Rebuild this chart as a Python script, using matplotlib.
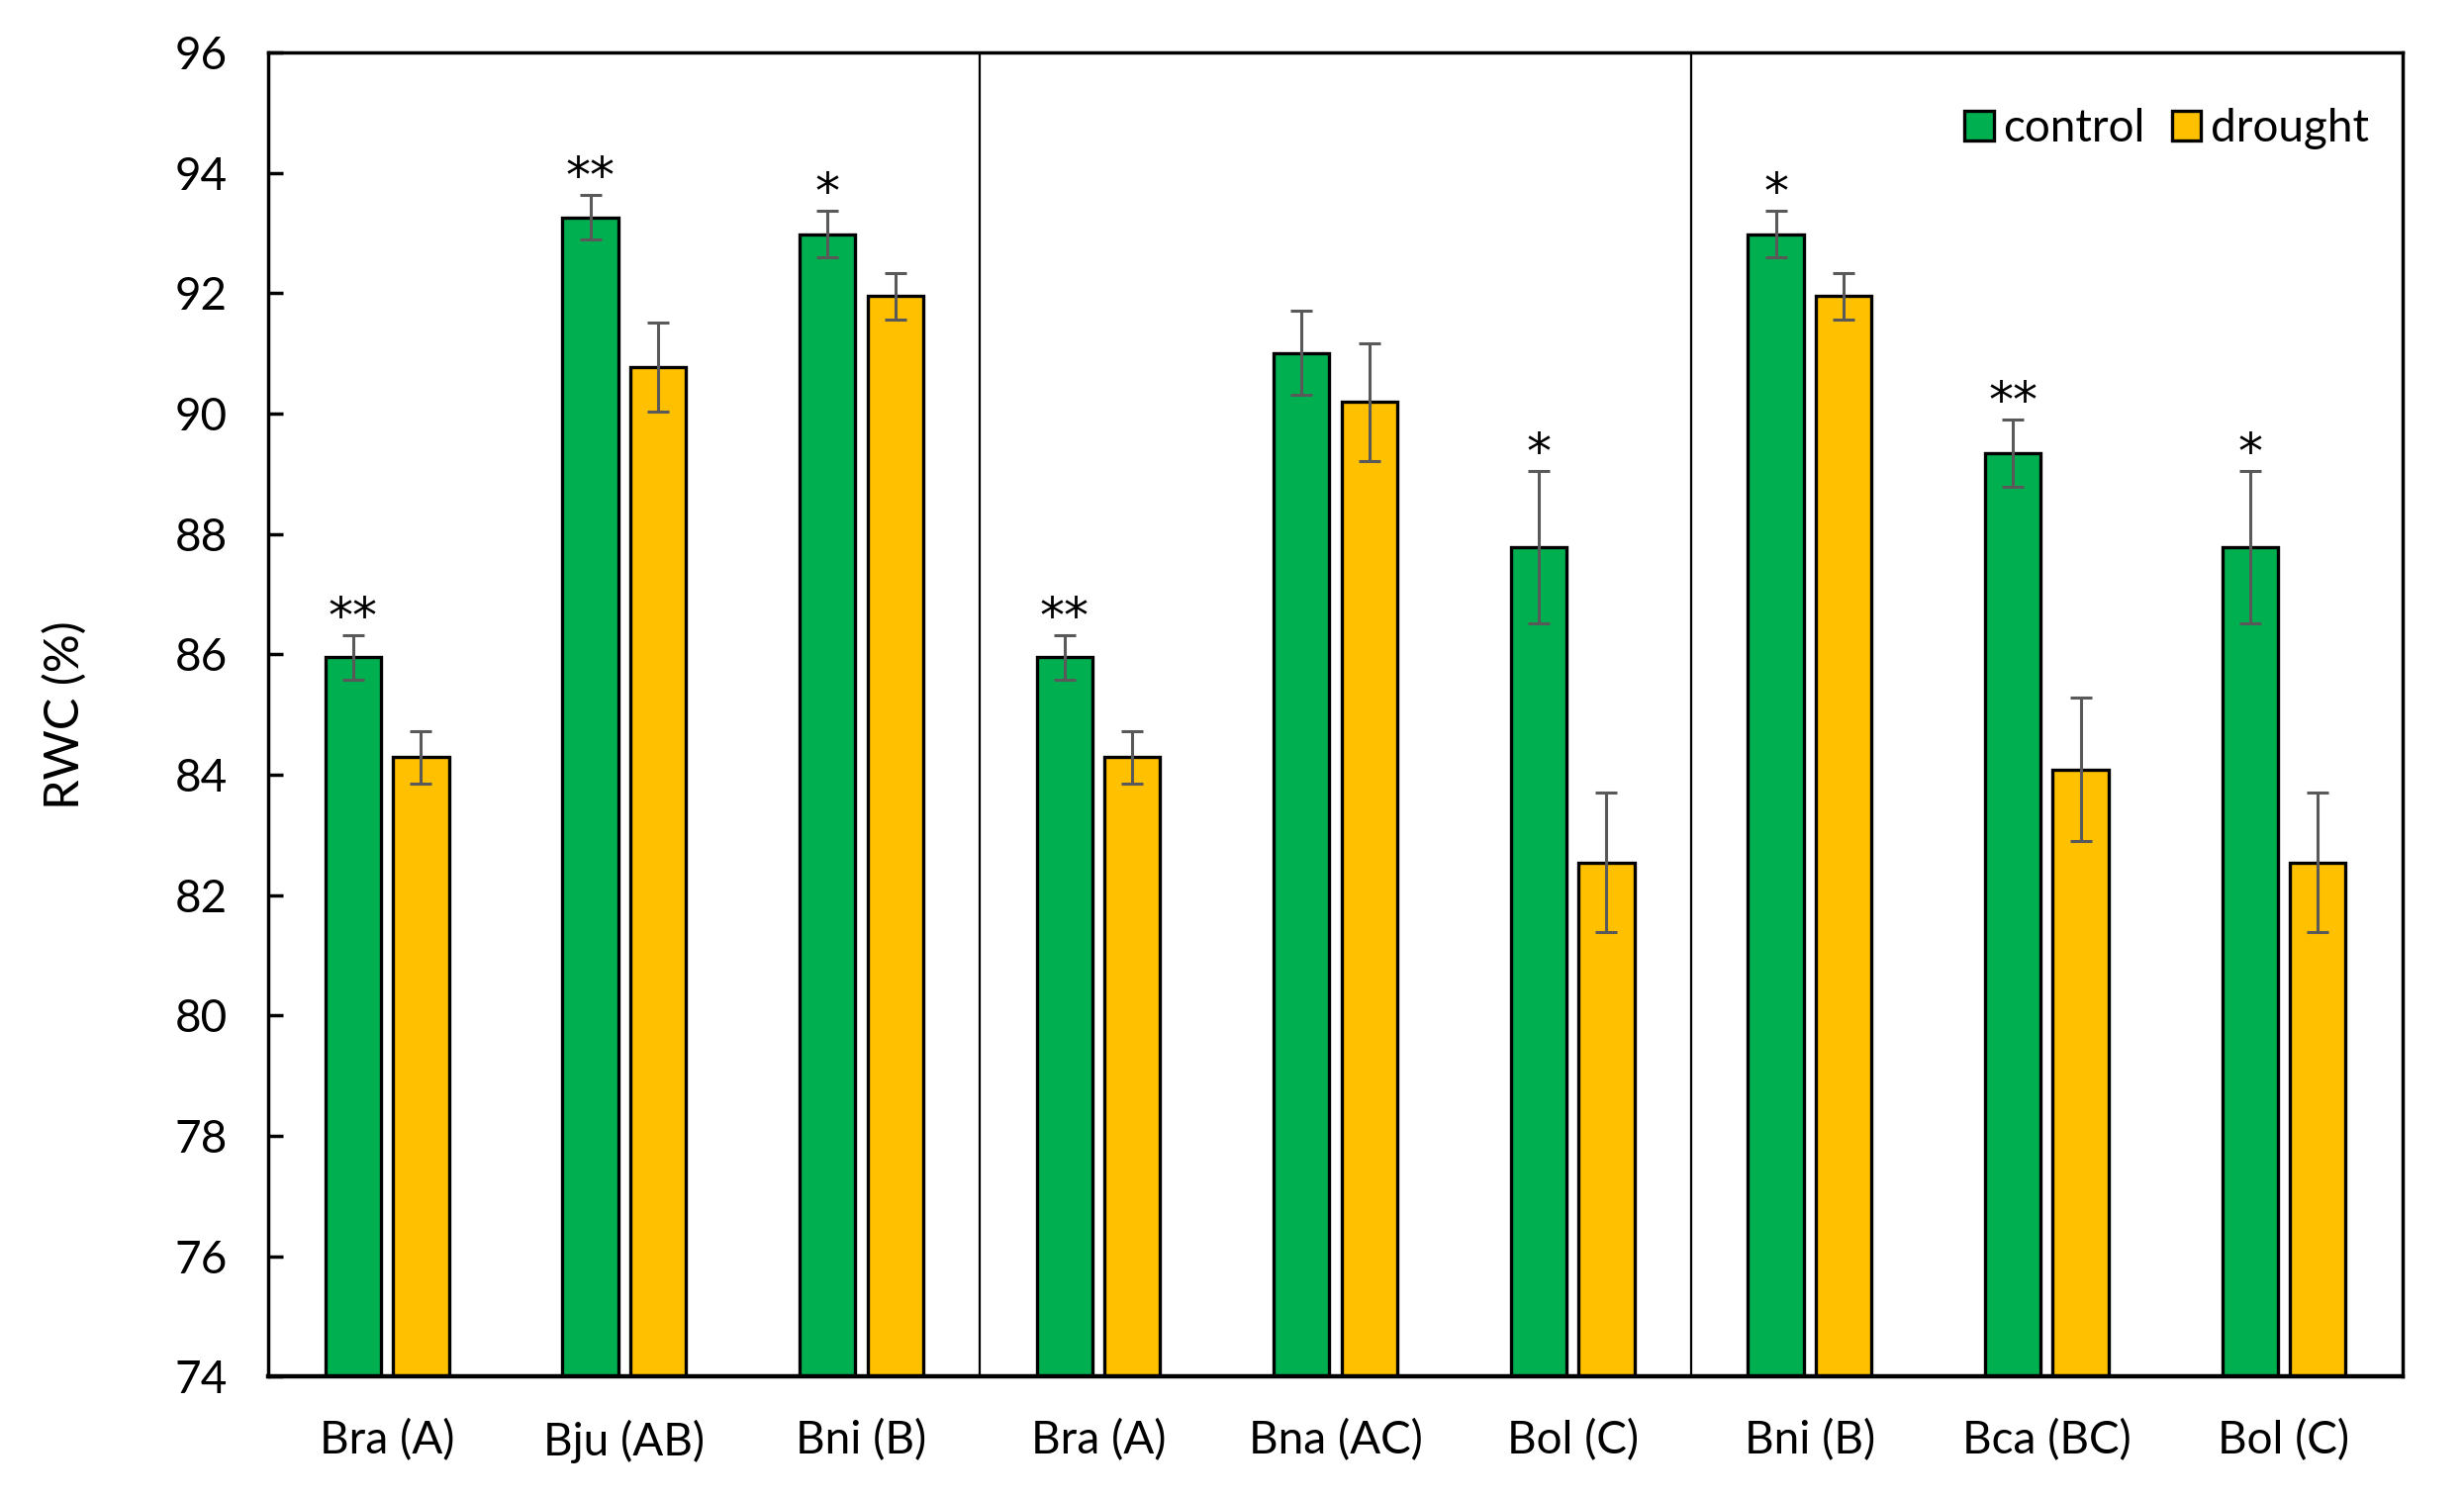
import matplotlib.pyplot as plt
import numpy as np

# data
categories = ["Bra (A)", "Bju (AB)", "Bni (B)", "Bra (A)", "Bna (AC)", "Bol (C)",
              "Bni (B)", "Bca (BC)", "Bol (C)"]
control = [85.95, 93.26, 92.98, 85.95, 91.01, 87.78, 92.98, 89.34, 87.78]
control_err = [0.37, 0.37, 0.39, 0.37, 0.70, 1.27, 0.39, 0.56, 1.27]
drought = [84.29, 90.78, 91.95, 84.29, 90.19, 82.54, 91.95, 84.09, 82.54]
drought_err = [0.44, 0.74, 0.39, 0.44, 0.98, 1.16, 0.39, 1.19, 1.16]
signif = ["**", "**", "*", "**", "", "*", "*", "**", "*"]

plt.rcParams['font.family'] = ['Lato', 'DejaVu Sans']

fig = plt.figure(figsize=(24.9, 15.14), dpi=100)
ax = fig.add_axes([0.109, 0.081, 0.866, 0.884])

x = np.arange(len(categories))
w = 0.235
off = 0.143

err_kw = dict(ecolor="#595959", elinewidth=2.2, capsize=8, capthick=2.2)
ax.bar(x - off, control, w, bottom=0, color="#00B050", edgecolor="black",
       linewidth=2.4, yerr=control_err, error_kw=err_kw, label="control", zorder=2)
ax.bar(x + off, drought, w, bottom=0, color="#FFC000", edgecolor="black",
       linewidth=2.4, yerr=drought_err, error_kw=err_kw, label="drought", zorder=2)

# significance marks above control bars
for i in range(len(categories)):
    if signif[i]:
        ax.text(x[i] - off, control[i] + control_err[i] - 0.12, signif[i],
                ha="center", va="bottom", fontsize=36, family="DejaVu Sans")

# group separators
for s in [2.5, 5.5]:
    ax.axvline(s, color="black", linewidth=1.6, zorder=1)

ax.set_xlim(-0.5, 8.5)
ax.set_ylim(74, 96)
ax.set_yticks(np.arange(74, 97, 2))
ax.set_xticks(x)
ax.set_xticklabels(categories)
ax.tick_params(axis="y", direction="in", length=11, width=2.5, labelsize=33, pad=30)
ax.tick_params(axis="x", length=0, labelsize=33, pad=31)
for sp in ax.spines.values():
    sp.set_linewidth(2.5)
ax.spines["bottom"].set_linewidth(3.2)

ax.set_ylabel("RWC (%)", fontsize=35, labelpad=64)

ax.legend(loc="upper right", ncol=2, frameon=False, fontsize=33,
          handlelength=0.65, handleheight=0.65, handletextpad=0.2,
          columnspacing=0.6, bbox_to_anchor=(0.999, 0.982), borderaxespad=0.3)

fig.savefig("out.png", dpi=100)
